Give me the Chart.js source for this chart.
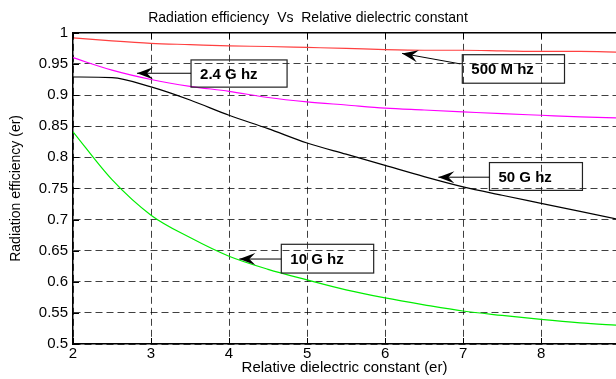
<!DOCTYPE html>
<html lang="en">
<head>
<meta charset="UTF-8">
<title>Radiation efficiency Vs Relative dielectric constant</title>
<script src="https://cdn.jsdelivr.net/npm/chart.js"></script>
<style>
  html, body { margin: 0; padding: 0; background: #fff; }
  .chart-box { width: 616px; height: 379px; position: relative; }
</style>
</head>
<body>
<div class="chart-box"><canvas id="effChart"></canvas></div>
<script>
// values
const dielectric = [2, 2.5, 3, 3.5, 4, 4.5, 5, 5.5, 6, 6.5, 7, 7.5, 8, 8.5, 9];
const eff500MHz = [0.992, 0.987, 0.983, 0.981, 0.979, 0.978, 0.9765, 0.975, 0.973, 0.972, 0.972, 0.971, 0.970, 0.970, 0.969];
const eff2_4GHz = [0.96, 0.94, 0.925, 0.914, 0.906, 0.896, 0.889, 0.884, 0.879, 0.876, 0.873, 0.870, 0.8675, 0.865, 0.863];
const eff10GHz = [0.841, 0.764, 0.707, 0.671, 0.641, 0.62, 0.603, 0.587, 0.574, 0.563, 0.553, 0.546, 0.5395, 0.534, 0.530];
const eff50GHz = [0.929, 0.928, 0.913, 0.892, 0.8675, 0.846, 0.823, 0.805, 0.787, 0.769, 0.7525, 0.739, 0.726, 0.713, 0.70];

const FONT = "'Liberation Sans', Arial, sans-serif";

// text boxes with arrows (data units)
const callouts = [
    { text: '2.4 G hz', box: [3.513, 4.744, 0.9564, 0.9127], tail: [3.513, 0.935], tip: [2.82, 0.935] },
    { text: '500 M hz', box: [6.99, 8.30, 0.9648, 0.919], tail: [6.965, 0.95], tip: [6.218, 0.9669] },
    { text: '50 G hz', box: [7.338, 8.53, 0.7915, 0.7468], tail: [7.338, 0.768], tip: [6.683, 0.768] },
    { text: '10 G hz', box: [4.67, 5.854, 0.6602, 0.614], tail: [4.67, 0.6365], tip: [4.132, 0.6365] }
];

function series(label, values, color) {
    return {
        label: label,
        data: dielectric.map((x, i) => ({ x: x, y: values[i] })),
        borderColor: color,
        backgroundColor: color,
        borderWidth: 1.2,
        pointRadius: 0,
        cubicInterpolationMode: 'monotone',
        fill: false
    };
}

function drawArrowHead(ctx, tx, ty, fromX, fromY) {
    const ang = Math.atan2(fromY - ty, fromX - tx);
    ctx.save();
    ctx.translate(tx, ty);
    ctx.rotate(ang);
    ctx.beginPath();
    ctx.moveTo(0, 0);
    ctx.lineTo(16, -6);
    ctx.lineTo(10, 0);
    ctx.lineTo(16, 6);
    ctx.closePath();
    ctx.fillStyle = '#000';
    ctx.fill();
    ctx.restore();
}

const framePlugin = {
    id: 'frame',
    afterDatasetsDraw(chart) {
        const { ctx, chartArea: a, scales: { x, y } } = chart;
        ctx.save();
        // top border + inward ticks
        ctx.strokeStyle = '#000';
        ctx.lineWidth = 1.5;
        ctx.beginPath();
        ctx.moveTo(a.left, a.top);
        ctx.lineTo(a.right, a.top);
        ctx.stroke();
        ctx.lineWidth = 1;
        x.ticks.forEach(t => {
            const px = Math.round(x.getPixelForValue(t.value)) + 0.5;
            ctx.beginPath();
            ctx.moveTo(px, a.top); ctx.lineTo(px, a.top + 6);
            ctx.moveTo(px, a.bottom); ctx.lineTo(px, a.bottom - 6);
            ctx.stroke();
        });
        y.ticks.forEach(t => {
            const py = Math.round(y.getPixelForValue(t.value)) + 0.5;
            ctx.beginPath();
            ctx.moveTo(a.left, py); ctx.lineTo(a.left + 6, py);
            ctx.stroke();
        });

        // callouts
        callouts.forEach(c => {
            const x0 = x.getPixelForValue(c.box[0]);
            const x1 = x.getPixelForValue(c.box[1]);
            const y0 = y.getPixelForValue(c.box[2]);
            const y1 = y.getPixelForValue(c.box[3]);
            ctx.strokeStyle = '#222';
            ctx.lineWidth = 1.2;
            ctx.strokeRect(x0, y0, x1 - x0, y1 - y0);
            ctx.fillStyle = '#000';
            ctx.font = 'bold 15px ' + FONT;
            ctx.textBaseline = 'middle';
            ctx.textAlign = 'left';
            ctx.fillText(c.text, x0 + 9, (y0 + y1) / 2 + 1);

            const tx = x.getPixelForValue(c.tip[0]);
            const ty = y.getPixelForValue(c.tip[1]);
            const fx = x.getPixelForValue(c.tail[0]);
            const fy = y.getPixelForValue(c.tail[1]);
            ctx.strokeStyle = '#000';
            ctx.lineWidth = 1;
            ctx.beginPath();
            ctx.moveTo(fx, fy);
            ctx.lineTo(tx, ty);
            ctx.stroke();
            drawArrowHead(ctx, tx, ty, fx, fy);
        });
        ctx.restore();
    }
};

const ctx = document.getElementById('effChart').getContext('2d');
const effChart = new Chart(ctx, {
    type: 'line',
    data: {
        datasets: [
            series('500 M hz', eff500MHz, '#ff4040'),
            series('2.4 G hz', eff2_4GHz, '#ff00ff'),
            series('50 G hz', eff50GHz, '#000000'),
            series('10 G hz', eff10GHz, '#00ee00')
        ]
    },
    options: {
        responsive: true,
        maintainAspectRatio: false,
        animation: false,
        layout: { padding: 0 },
        plugins: {
            legend: { display: false },
            tooltip: { enabled: false },
            title: {
                display: true,
                text: 'Radiation efficiency  Vs  Relative dielectric constant',
                color: '#000',
                font: { family: FONT, size: 14, weight: 'normal' },
                padding: { top: 10, bottom: 6 }
            }
        },
        scales: {
            x: {
                type: 'linear',
                min: 2,
                max: 8.96,
                afterFit: s => { s.height = 35; },
                ticks: {
                    stepSize: 1,
                    includeBounds: false,
                    padding: 1,
                    color: '#000',
                    font: { family: FONT, size: 15 }
                },
                grid: { color: 'rgba(0,0,0,0.75)', lineWidth: 1, drawTicks: false },
                border: { color: '#000', width: 1.5, dash: [7, 4] },
                title: {
                    display: true,
                    text: 'Relative dielectric constant (er)',
                    color: '#000',
                    font: { family: FONT, size: 15 },
                    padding: { top: 0, bottom: 2 }
                }
            },
            y: {
                min: 0.5,
                max: 1,
                afterFit: s => { s.width = 73; },
                ticks: {
                    stepSize: 0.05,
                    padding: 5,
                    color: '#000',
                    font: { family: FONT, size: 15 },
                    callback: v => String(+v.toFixed(2))
                },
                grid: { color: 'rgba(0,0,0,0.75)', lineWidth: 1, drawTicks: false },
                border: { color: '#000', width: 1.5, dash: [7, 4] },
                title: {
                    display: true,
                    text: 'Radiation efficiency (er)',
                    color: '#000',
                    font: { family: FONT, size: 14 },
                    padding: { top: 8, bottom: 0 }
                }
            }
        }
    },
    plugins: [framePlugin]
});
</script>
</body>
</html>
